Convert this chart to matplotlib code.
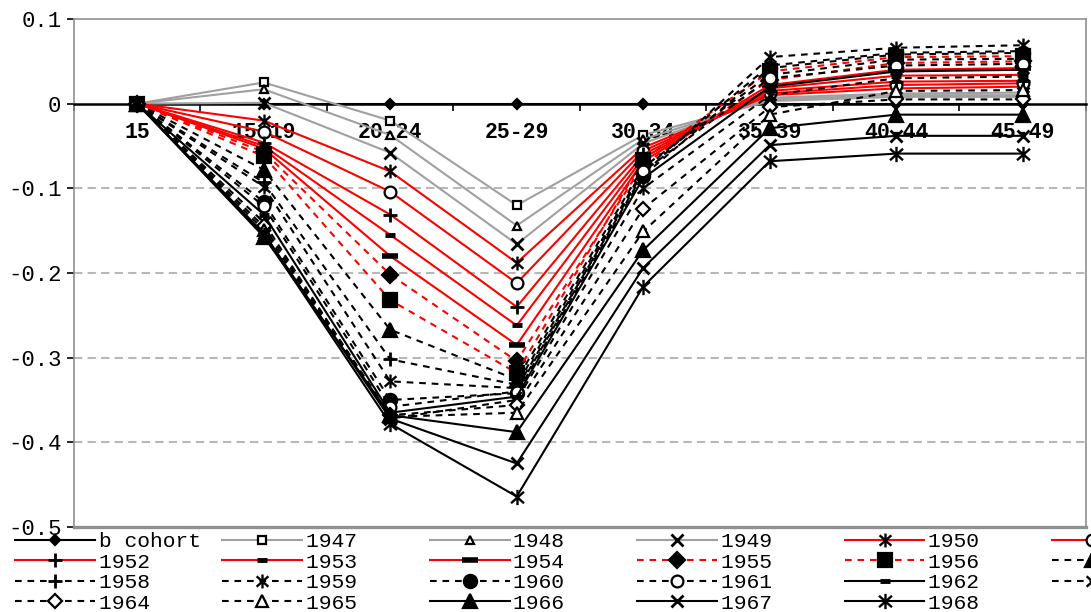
import matplotlib
matplotlib.use("Agg")
import matplotlib.pyplot as plt
from matplotlib.path import Path

plt.rcParams["font.family"] = ["Liberation Mono", "DejaVu Sans Mono"]
plt.rcParams["axes.unicode_minus"] = False

# age groups on the category axis
ages = ["15", "15-19", "20-24", "25-29", "30-34", "35-39", "40-44", "45-49"]

# cumulative deviation per cohort
b_cohort = [0, 0, 0, 0, 0, 0, 0, 0]
c1947 = [0, 0.025, -0.020, -0.120, -0.037, 0.003, 0.008, 0.008]
c1948 = [0, 0.017, -0.037, -0.144, -0.042, 0.005, 0.010, 0.010]
c1949 = [0, 0.001, -0.058, -0.166, -0.047, 0.007, 0.012, 0.013]
c1950 = [0, -0.020, -0.080, -0.188, -0.052, 0.010, 0.018, 0.020]
c1951 = [0, -0.033, -0.104, -0.212, -0.056, 0.012, 0.022, 0.024]
c1952 = [0, -0.046, -0.131, -0.240, -0.060, 0.015, 0.026, 0.027]
c1953 = [0, -0.050, -0.155, -0.262, -0.064, 0.018, 0.033, 0.034]
c1954 = [0, -0.053, -0.180, -0.285, -0.068, 0.022, 0.040, 0.042]
c1955 = [0, -0.057, -0.202, -0.304, -0.072, 0.028, 0.048, 0.050]
c1956 = [0, -0.062, -0.232, -0.318, -0.066, 0.038, 0.055, 0.056]
c1957 = [0, -0.078, -0.267, -0.326, -0.075, 0.034, 0.052, 0.053]
c1958 = [0, -0.093, -0.302, -0.332, -0.078, 0.045, 0.060, 0.062]
c1959 = [0, -0.098, -0.328, -0.336, -0.083, 0.055, 0.066, 0.069]
c1960 = [0, -0.116, -0.350, -0.342, -0.085, 0.042, 0.058, 0.060]
c1961 = [0, -0.121, -0.358, -0.340, -0.080, 0.030, 0.045, 0.047]
c1962 = [0, -0.131, -0.365, -0.346, -0.088, 0.020, 0.038, 0.040]
c1963 = [0, -0.140, -0.372, -0.350, -0.100, 0.010, 0.030, 0.032]
c1964 = [0, -0.145, -0.368, -0.356, -0.124, -0.004, 0.005, 0.005]
c1965 = [0, -0.149, -0.370, -0.365, -0.151, -0.013, 0.015, 0.016]
c1966 = [0, -0.157, -0.368, -0.388, -0.173, -0.029, -0.013, -0.013]
c1967 = [0, -0.153, -0.372, -0.425, -0.194, -0.049, -0.038, -0.038]
c1968 = [0, -0.155, -0.378, -0.464, -0.216, -0.068, -0.059, -0.059]

names = ["b cohort"] + [str(y) for y in range(1947, 1969)]
values = [b_cohort, c1947, c1948, c1949, c1950, c1951, c1952, c1953, c1954,
          c1955, c1956, c1957, c1958, c1959, c1960, c1961, c1962, c1963,
          c1964, c1965, c1966, c1967, c1968]

yticks = [-0.5, -0.4, -0.3, -0.2, -0.1, 0, 0.1]
ytick_labels = ["-0.5", "-0.4", "-0.3", "-0.2", "-0.1", "0", "0.1"]

GRAY = "#a0a0a0"; RED = "#ff0000"; INK = "#000000"; GRID = "#b8b8b8"
SOLID = "-"; DASH = (0, (3.2, 2.8))
# asterisk: an x crossed by a vertical stroke
STAR = Path([(-0.85, -0.75), (0.85, 0.75), (-0.85, 0.75), (0.85, -0.75), (0, -1), (0, 1)],
            [Path.MOVETO, Path.LINETO] * 3)

# (color, linestyle, marker, markersize, filled)
styles = [
    (INK, SOLID, "D", 5, True),
    (GRAY, SOLID, "s", 5.5, False),
    (GRAY, SOLID, "^", 5.5, False),
    (GRAY, SOLID, "x", 8, True),
    (RED, SOLID, STAR, 10, True),
    (RED, SOLID, "o", 8.5, False),
    (RED, SOLID, "+", 10, True),
    (RED, SOLID, "_", 6.5, True),
    (RED, SOLID, "_", 11.5, True),
    (RED, DASH, "D", 8, True),
    (RED, DASH, "s", 10, True),
    (INK, DASH, "^", 10, True),
    (INK, DASH, "+", 10, True),
    (INK, DASH, STAR, 10, True),
    (INK, DASH, "o", 9.5, True),
    (INK, DASH, "o", 8.5, False),
    (INK, SOLID, "_", 6.5, True),
    (INK, DASH, STAR, 10, True),
    (INK, DASH, "D", 7.5, False),
    (INK, DASH, "^", 9, False),
    (INK, SOLID, "^", 10, True),
    (INK, SOLID, "x", 9, True),
    (INK, SOLID, STAR, 11, True),
]

fig = plt.figure(figsize=(10.91, 6.12), dpi=100)
ax = fig.add_axes([0.0678, 0.1389, 0.9276, 0.8301])
x = list(range(len(ages)))

handles = []
for i, (name, vals, st) in enumerate(zip(names, values, styles)):
    color, ls, mk, ms, filled = st
    mew = 1.6
    face = INK if filled else "white"
    if mk in ("x", "+"):
        mew = 2.0
        face = "none"
    if mk is STAR:
        mew = 1.7
        face = "none"
    if mk == "_":
        mew = 4.0 if ms > 8 else 3.5
    ln, = ax.plot(x, vals, color=color, linestyle=ls, linewidth=1.5,
                  marker=mk, markersize=ms, markeredgewidth=mew,
                  markeredgecolor=INK, markerfacecolor=face,
                  zorder=3 + i * 0.01, clip_on=False)
    handles.append(ln)

for y in yticks[1:-2]:
    ax.axhline(y, color=GRID, linestyle=(0, (4, 2.5)), linewidth=1.5, zorder=1)

ax.set_xlim(-0.5, len(ages) - 0.5)
ax.set_ylim(-0.5, 0.1)

for s in ("left", "top", "right"):
    ax.spines[s].set_color("#909090")
    ax.spines[s].set_linewidth(1.2)
ax.spines["bottom"].set_position(("data", 0))
ax.spines["bottom"].set_color(INK)
ax.spines["bottom"].set_linewidth(1.8)
ax.axhline(-0.5, color="#909090", linewidth=2.4, clip_on=False, zorder=2)

ax.set_xticks(x)
ax.set_xticklabels(ages, fontsize=15.5, fontweight="bold")
ax.set_xticks([v - 0.5 for v in x] + [len(ages) - 0.5], minor=True)
ax.tick_params(axis="x", which="major", length=0, pad=13)
ax.tick_params(axis="x", which="minor", length=5, width=1.2, color=INK, direction="out")

ax.set_yticks(yticks)
ax.set_yticklabels(ytick_labels, fontsize=16)
ax.tick_params(axis="y", length=5, width=1.2, color=INK, pad=4)

# legend laid out row by row like the original (last column runs off the page)
n, ncol = len(handles), 6
order = [r * ncol + c for c in range(ncol) for r in range(4) if r * ncol + c < n]
labels = [names[k].ljust(8) for k in order]
fig.legend([handles[k] for k in order], labels,
           loc="upper left", bbox_to_anchor=(15 / 1091, 0.130), ncol=ncol,
           frameon=False, prop=dict(family="Liberation Mono", size=15.3),
           handlelength=3.76, handletextpad=0.17, columnspacing=1.03,
           labelspacing=0.07, borderpad=0, borderaxespad=0)

fig.savefig("out.png", dpi=100)
